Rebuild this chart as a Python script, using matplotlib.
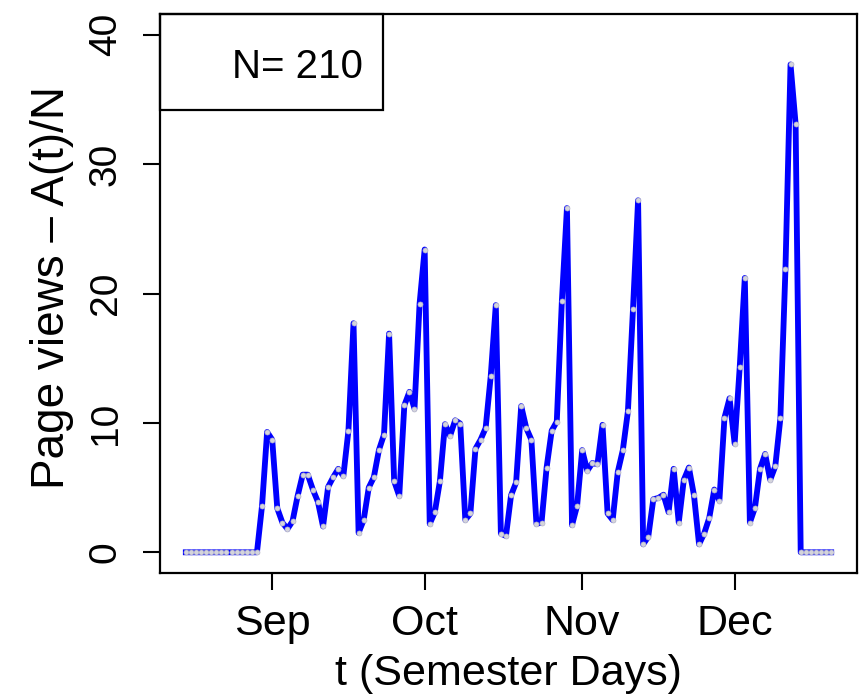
import numpy as np
import pandas as pd
import matplotlib
matplotlib.use("Agg")
import matplotlib.pyplot as plt
from matplotlib.patches import Rectangle

plt.rcParams['font.family'] = ['Liberation Sans', 'DejaVu Sans']

# daily page views per student, Aug 15 .. Dec 20
start_date = "2012-08-15"
views = [0, 0, 0, 0, 0, 0, 0, 0, 0, 0, 0, 0, 0, 0, 0,
         3.6, 9.3, 8.7, 3.4, 2.3, 1.8, 2.4, 4.35, 6.0, 6.0,
         4.85, 3.9, 2.0, 5.05, 5.8, 6.45, 5.9, 9.4, 17.7, 1.5,
         2.5, 5.0, 5.8, 7.9, 9.1, 16.9, 5.5, 4.35, 11.35, 12.4,
         11.1, 19.2, 23.4, 2.2, 3.1, 5.5, 9.9, 9.0, 10.2, 9.95,
         2.5, 3.0, 8.0, 8.7, 9.6, 13.6, 19.1, 1.45, 1.26, 4.4,
         5.4, 11.3, 9.6, 8.7, 2.2, 2.3, 6.55, 9.4, 10.1, 19.4,
         26.6, 2.1, 3.6, 7.9, 6.3, 6.9, 6.8, 9.85, 3.0, 2.5,
         6.2, 7.9, 10.9, 18.8, 27.2, 0.62, 1.2, 4.1, 4.2, 4.45,
         3.1, 6.45, 2.3, 5.6, 6.55, 4.4, 0.62, 1.45, 2.65, 4.85,
         4.0, 10.4, 11.9, 8.4, 14.3, 21.2, 2.3, 3.45, 6.45, 7.6,
         5.6, 6.65, 10.35, 21.9, 37.7, 33.1, 0, 0, 0, 0, 0, 0, 0]
month_ticks = ["2012-09-01", "2012-10-01", "2012-11-01", "2012-12-01"]
month_labels = ["Sep", "Oct", "Nov", "Dec"]
y_ticks = [0, 10, 20, 30, 40]
n_students = 210

days = pd.date_range(start_date, periods=len(views))

fig = plt.figure(figsize=(8.66, 6.97), dpi=100)
ax = fig.add_axes([160/866, 124/697, 697/866, 559/697])

ax.plot(days, views, color='#0000ff', lw=4.2, solid_joinstyle='round',
        marker='o', ms=3.6, mfc='#d4d4dc', mec='#b8b8c8', mew=0.5)

pad = pd.Timedelta(days=0.04 * (len(views) - 1))
ax.set_xlim(days[0] - pad, days[-1] + pad)
ax.set_ylim(-1.6, 41.6)

ax.set_xticks(pd.to_datetime(month_ticks))
ax.set_xticklabels(month_labels)
ax.set_yticks(y_ticks)
ax.set_yticklabels([str(v) for v in y_ticks], rotation=90, va='center')

ax.tick_params(axis='both', direction='out', length=12.5, width=1.5)
ax.tick_params(axis='x', labelsize=31, pad=9.5)
ax.tick_params(axis='y', labelsize=28, pad=13.5)
for s in ax.spines.values():
    s.set_linewidth(1.6)

ax.set_xlabel("t (Semester Days)", fontsize=31)
ax.set_ylabel("Page views \u2013 A(t)/N", fontsize=33)
ax.xaxis.set_label_coords(0.5, -0.145)
ax.yaxis.set_label_coords(-0.123, 0.51)

# legend box top-left
ax.add_patch(Rectangle((0, 1 - 96/559), 223/697, 96/559, transform=ax.transAxes,
                       fill=False, lw=1.6, ec='black', clip_on=False, zorder=5))
ax.text(0.291, 0.8855, "N= %d" % n_students, transform=ax.transAxes,
        ha='right', va='baseline', fontsize=29)

fig.savefig("out.png", dpi=100)
